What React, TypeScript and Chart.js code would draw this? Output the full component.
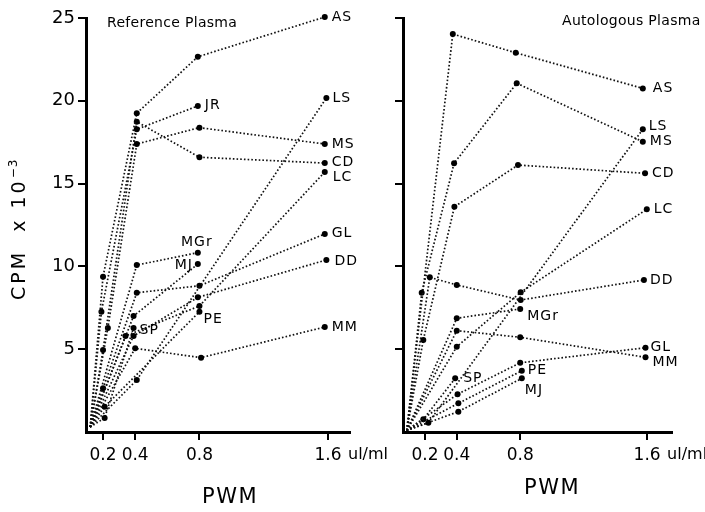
import React, { useEffect, useRef } from 'react';
import { Chart, registerables } from 'chart.js';

Chart.register(...registerables);

type Pt = [number, number];

// Tick values
const DOSES = [0.2, 0.4, 0.8, 1.6];
const Y_TICKS = [5, 10, 15, 20, 25];

// ---------- Reference Plasma (left panel) : [PWM dose, CPM x 10^-3] ----------
const REF_AS: Pt[] = [[0.12, 0.3], [0.2, 9.38], [0.41, 19.25], [0.79, 22.66], [1.58, 25.06]];
const REF_JR: Pt[] = [[0.12, 0.3], [0.19, 7.26], [0.41, 18.28], [0.79, 19.69]];
const REF_CD: Pt[] = [[0.12, 0.3], [0.2, 4.95], [0.41, 18.74], [0.8, 16.59], [1.58, 16.24]];
const REF_MS: Pt[] = [[0.12, 0.3], [0.23, 6.28], [0.41, 17.39], [0.8, 18.38], [1.58, 17.39]];
const REF_LS: Pt[] = [[0.12, 0.3], [0.41, 3.14], [1.59, 20.17]];
const REF_LC: Pt[] = [[0.12, 0.3], [0.34, 5.8], [0.8, 7.61], [1.58, 15.7]];
const REF_GL: Pt[] = [[0.12, 0.3], [0.2, 2.64], [0.41, 8.41], [0.8, 8.83], [1.58, 11.96]];
const REF_DD: Pt[] = [[0.12, 0.3], [0.39, 5.8], [0.79, 8.13], [1.59, 10.39]];
const REF_MM: Pt[] = [[0.12, 0.3], [0.4, 5.05], [0.81, 4.49], [1.58, 6.34]];
const REF_MGR: Pt[] = [[0.12, 0.3], [0.41, 10.08], [0.79, 10.83]];
const REF_MJ: Pt[] = [[0.12, 0.3], [0.39, 7.0], [0.79, 10.14]];
const REF_PE: Pt[] = [[0.12, 0.3], [0.21, 1.53], [0.8, 7.26]];
const REF_SP: Pt[] = [[0.12, 0.3], [0.21, 0.85], [0.39, 6.28]];

// ---------- Autologous Plasma (right panel) ----------
const AUTO_AS: Pt[] = [[0.085, 0.1], [0.375, 24.03], [0.772, 22.9], [1.573, 20.75]];
const AUTO_MS: Pt[] = [[0.085, 0.1], [0.179, 8.41], [0.383, 16.23], [0.778, 21.06], [1.573, 17.53]];
const AUTO_CD: Pt[] = [[0.085, 0.1], [0.189, 5.56], [0.385, 13.6], [0.786, 16.12], [1.587, 15.62]];
const AUTO_LS: Pt[] = [[0.085, 0.1], [0.221, 0.56], [1.573, 18.28]];
const AUTO_LC: Pt[] = [[0.085, 0.1], [0.4, 5.15], [0.803, 8.44], [1.598, 13.45]];
const AUTO_DD: Pt[] = [[0.085, 0.1], [0.23, 9.34], [0.4, 8.88], [0.803, 7.97], [1.58, 9.18]];
const AUTO_MGR: Pt[] = [[0.085, 0.1], [0.4, 6.87], [0.8, 7.43]];
const AUTO_MM: Pt[] = [[0.085, 0.1], [0.4, 6.12], [0.8, 5.72], [1.59, 4.51]];
const AUTO_GL: Pt[] = [[0.085, 0.1], [0.405, 2.28], [0.8, 4.18], [1.59, 5.09]];
const AUTO_PE: Pt[] = [[0.085, 0.1], [0.41, 1.73], [0.81, 3.7]];
const AUTO_MJ: Pt[] = [[0.085, 0.1], [0.41, 1.23], [0.81, 3.24]];
const AUTO_SP: Pt[] = [[0.085, 0.1], [0.189, 0.77], [0.39, 3.24]];

const REF_SERIES: [string, Pt[]][] = [
  ['AS', REF_AS], ['JR', REF_JR], ['CD', REF_CD], ['MS', REF_MS], ['LS', REF_LS],
  ['LC', REF_LC], ['GL', REF_GL], ['DD', REF_DD], ['MM', REF_MM], ['MGr', REF_MGR],
  ['MJ', REF_MJ], ['PE', REF_PE], ['SP', REF_SP],
];
const AUTO_SERIES: [string, Pt[]][] = [
  ['AS', AUTO_AS], ['MS', AUTO_MS], ['CD', AUTO_CD], ['LS', AUTO_LS], ['LC', AUTO_LC],
  ['DD', AUTO_DD], ['MGr', AUTO_MGR], ['MM', AUTO_MM], ['GL', AUTO_GL], ['PE', AUTO_PE],
  ['MJ', AUTO_MJ], ['SP', AUTO_SP],
];

type Place = { dx: number; dy: number; align: CanvasTextAlign };
const R = (dx: number, dy = 0): Place => ({ dx, dy, align: 'left' });

const REF_PLACES: Record<string, Place> = {
  AS: R(7), JR: R(7, -1), CD: R(7, -1), MS: R(7), LS: R(6), LC: R(8, 5), GL: R(7, -1),
  DD: R(8, 1), MM: R(7), MGr: { dx: -1, dy: -10, align: 'center' },
  MJ: { dx: -5, dy: 1, align: 'right' }, PE: R(4, 8), SP: R(6, 2),
};
const AUTO_PLACES: Record<string, Place> = {
  AS: R(10), LS: R(6, -3), MS: R(7), CD: R(7), LC: R(7), DD: R(6), GL: R(5), MM: R(7, 5),
  MGr: R(7, 7), PE: R(6), MJ: R(3, 12), SP: R(8),
};

const FONT = "'DejaVu Sans', sans-serif";

type PanelDef = {
  series: [string, Pt[]][];
  places: Record<string, Place>;
  left: number;
  width: number;
  areaLeft: number;
  areaRight: number;
  xMin: number;
  xMax: number;
  showY: boolean;
  title: string;
  titleX: number;
  titleY: number;
  pwmX: number;
  pwmY: number;
  yTitle: boolean;
};

const PANELS: PanelDef[] = [
  {
    series: REF_SERIES, places: REF_PLACES, left: 0, width: 400, areaLeft: 86, areaRight: 350,
    xMin: 0.094, xMax: 1.737, showY: true, title: 'Reference Plasma', titleX: 107, titleY: 23,
    pwmX: 230, pwmY: 498, yTitle: true,
  },
  {
    series: AUTO_SERIES, places: AUTO_PLACES, left: 360, width: 345, areaLeft: 43, areaRight: 312,
    xMin: 0.061, xMax: 1.757, showY: false, title: 'Autologous Plasma', titleX: 202, titleY: 21,
    pwmX: 192, pwmY: 489, yTitle: false,
  },
];

function makePlugin(p: PanelDef) {
  return {
    id: 'panelText',
    afterDraw(chart: any) {
      const ctx: CanvasRenderingContext2D = chart.ctx;
      ctx.save();
      ctx.fillStyle = '#000';
      // series labels
      ctx.font = `14px ${FONT}`;
      (ctx as any).letterSpacing = '1px';
      ctx.textBaseline = 'middle';
      chart.data.datasets.forEach((ds: any, i: number) => {
        const meta = chart.getDatasetMeta(i);
        const el = meta.data[meta.data.length - 1];
        const pl = p.places[ds.label] || R(7);
        ctx.textAlign = pl.align;
        ctx.fillText(ds.label, el.x + pl.dx, el.y + pl.dy);
      });
      // panel title
      ctx.font = `14px ${FONT}`;
      (ctx as any).letterSpacing = '0.3px';
      ctx.textAlign = 'left';
      ctx.fillText(p.title, p.titleX, p.titleY);
      // unit after 1.6
      const xs = chart.scales.x;
      const area = chart.chartArea;
      ctx.font = `16px ${FONT}`;
      (ctx as any).letterSpacing = '0px';
      ctx.textAlign = 'left';
      ctx.fillText('ul/ml', xs.getPixelForValue(1.6) + 20, area.bottom + 8 + 5 + 10.2);
      // x title
      ctx.font = `21px ${FONT}`;
      (ctx as any).letterSpacing = '1.5px';
      ctx.textAlign = 'center';
      ctx.fillText('PWM', p.pwmX, p.pwmY);
      // y title
      if (p.yTitle) {
        ctx.translate(20, 230);
        ctx.rotate(-Math.PI / 2);
        ctx.textAlign = 'left';
        ctx.font = `19px ${FONT}`;
        (ctx as any).letterSpacing = '3px';
        const main = 'CPM  x 10';
        ctx.fillText(main, -70, 0);
        const w = ctx.measureText(main).width;
        ctx.font = `12px ${FONT}`;
        (ctx as any).letterSpacing = '1px';
        ctx.fillText('\u2212' + '3', -70 + w, -6);
      }
      ctx.restore();
    },
  };
}

function Panel({ p }: { p: PanelDef }) {
  const ref = useRef<HTMLCanvasElement | null>(null);
  useEffect(() => {
    if (!ref.current) return;
    const axisLine = { display: true, color: '#000', width: 3 };
    const grid = { drawOnChartArea: false, drawTicks: true, tickLength: 8, color: '#000', lineWidth: 2 };
    const chart = new Chart(ref.current, {
      type: 'line',
      data: {
        datasets: p.series.map(([name, pts]) => ({
          label: name,
          data: pts.map(([x, y]) => ({ x, y })),
          borderColor: '#111',
          borderWidth: 1.7,
          borderDash: [1.6, 2.1],
          borderCapStyle: 'butt',
          tension: 0,
          fill: false,
          clip: false,
          pointRadius: (c: any) => (c.dataIndex === 0 ? 0 : 3),
          pointBackgroundColor: '#000',
          pointBorderWidth: 0,
          pointHoverRadius: 0,
        })),
      },
      options: {
        animation: false,
        responsive: false,
        maintainAspectRatio: false,
        layout: { padding: { left: 0, right: p.width - p.areaRight, top: 18, bottom: 0 } },
        plugins: { legend: { display: false }, tooltip: { enabled: false } },
        events: [],
        scales: {
          x: {
            type: 'linear',
            min: p.xMin,
            max: p.xMax,
            afterBuildTicks: (s: any) => { s.ticks = DOSES.map((v) => ({ value: v })); },
            afterFit: (s: any) => { s.height = 80; },
            ticks: {
              autoSkip: false, maxRotation: 0, minRotation: 0, padding: 5, color: '#000',
              font: { family: FONT, size: 17 },
              callback: (v: any) => String(v),
            },
            grid,
            border: axisLine,
          },
          y: {
            type: 'linear',
            min: 0,
            max: 25,
            afterBuildTicks: (s: any) => { s.ticks = Y_TICKS.map((v) => ({ value: v })); },
            afterFit: (s: any) => { s.width = p.areaLeft; },
            ticks: { display: p.showY, padding: 3, color: '#000', font: { family: FONT, size: 18 } },
            grid,
            border: axisLine,
          },
        },
      } as any,
      plugins: [makePlugin(p)],
    });
    return () => chart.destroy();
  }, [p]);
  return (
    <canvas
      ref={ref}
      width={p.width}
      height={512}
      style={{ position: 'absolute', left: p.left, top: 0, width: p.width, height: 512 }}
    />
  );
}

export default function App() {
  return (
    <div style={{ position: 'fixed', left: 0, top: 0, width: 705, height: 512, background: '#fff', overflow: 'hidden' }}>
      {PANELS.map((p, i) => (
        <Panel key={i} p={p} />
      ))}
    </div>
  );
}
